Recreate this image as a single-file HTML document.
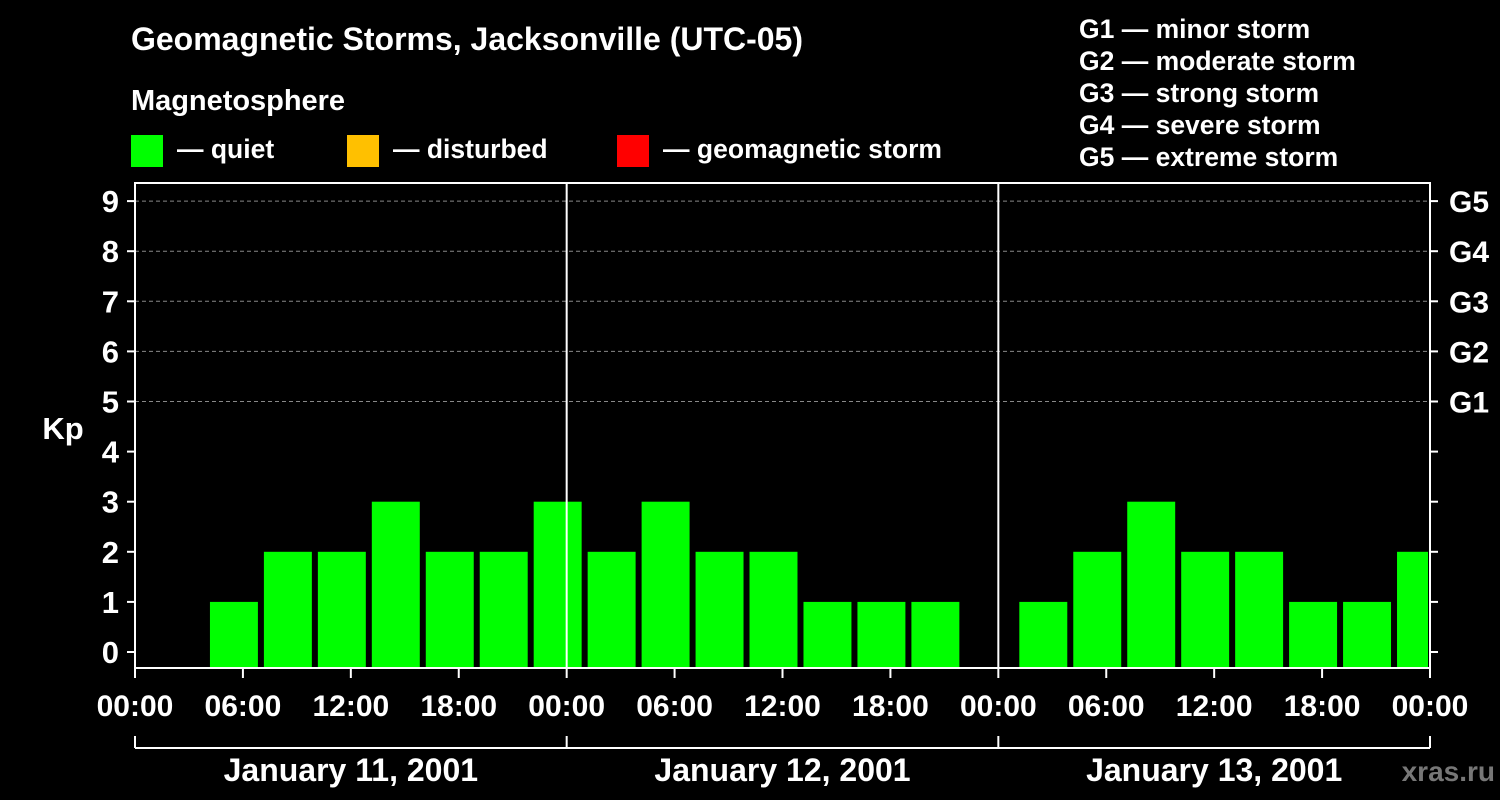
<!DOCTYPE html>
<html><head><meta charset="utf-8"><style>
body{margin:0;background:#000;width:1500px;height:800px;overflow:hidden}
svg{display:block;font-family:"Liberation Sans",Arial,sans-serif;font-weight:bold}
</style></head><body>
<svg id="c" width="1500" height="800">
<text x="131" y="50" fill="#fff" font-size="32" textLength="672">Geomagnetic Storms, Jacksonville (UTC-05)</text>
<text x="131" y="110" fill="#fff" font-size="29" textLength="214">Magnetosphere</text>
<g><rect x="131" y="135" width="32" height="32" fill="#00ff00"/><text x="177" y="158" fill="#fff" font-size="26.5">— quiet</text></g>
<g><rect x="347" y="135" width="32" height="32" fill="#ffc000"/><text x="393" y="158" fill="#fff" font-size="26.5">— disturbed</text></g>
<g><rect x="617" y="135" width="32" height="32" fill="#ff0000"/><text x="663" y="158" fill="#fff" font-size="26.5" textLength="279">— geomagnetic storm</text></g>
<g fill="#fff" font-size="26.5">
<text x="1079" y="38">G1 — minor storm</text><text x="1079" y="70">G2 — moderate storm</text><text x="1079" y="102">G3 — strong storm</text><text x="1079" y="134">G4 — severe storm</text><text x="1079" y="166">G5 — extreme storm</text></g>
<text x="63" y="439" fill="#fff" font-size="31" text-anchor="middle">Kp</text>
<text x="1495" y="781" fill="#777" font-size="28" text-anchor="end">xras.ru</text>
<g id="g"></g>
</svg>
<script>
const dates=["January 11, 2001","January 12, 2001","January 13, 2001"];
const slotStartHours=[1,4,7,10,13,16,19,22,25,28,31,34,37,40,43,46,49,52,55,58,61,64,67,70];
const kpValues=[0,1,2,2,3,2,2,3,2,3,2,2,1,1,1,0,1,2,3,2,2,1,1,2];
const yTicks=[0,1,2,3,4,5,6,7,8,9];
const gLabels=["G1","G2","G3","G4","G5"];
const X0=135,X1=1430,YT=183,YB=668,totalH=72;
const x=h=>X0+(X1-X0)*h/totalH;
const y=v=>652-50.1*v;
const NS="http://www.w3.org/2000/svg",g=document.getElementById('g');
function mk(t,a,txt){const e=document.createElementNS(NS,t);for(const k in a)e.setAttribute(k,a[k]);if(txt!=null)e.textContent=txt;g.appendChild(e);return e;}
for(let v=5;v<=9;v++){const e=mk('line',{x1:X0,x2:X1,y1:y(v),y2:y(v),stroke:'#888','stroke-dasharray':'4,3'});

}
kpValues.forEach((v,i)=>{if(v<=0)return;const a=x(slotStartHours[i])+3,b=Math.min(x(slotStartHours[i]+3)-3,X1-2);
const e=mk('rect',{x:a,y:y(v),width:b-a,height:YB-y(v),fill:v>=5?'#ff0000':(v>=4?'#ffc000':'#00ff00')});

});
const f=mk('rect',{x:X0,y:YT,width:X1-X0,height:YB-YT,fill:'none',stroke:'#fff','stroke-width':2});


[24,48].forEach(h=>{const e=mk('line',{x1:x(h),x2:x(h),y1:YT,y2:YB,stroke:'#fff','stroke-width':2});

});
yTicks.forEach(v=>{mk('line',{x1:X0-8,x2:X0,y1:y(v),y2:y(v),stroke:'#fff','stroke-width':2});
mk('line',{x1:X1,x2:X1+8,y1:y(v),y2:y(v),stroke:'#fff','stroke-width':2});
const t=mk('text',{x:X0-16,y:y(v)+11,fill:'#fff','font-size':31,'text-anchor':'end'},String(v));

});
gLabels.forEach((l,i)=>{const t=mk('text',{x:X1+19,y:y(5+i)+11,fill:'#fff','font-size':30},l);

});
for(let h=0;h<=72;h+=6){mk('line',{x1:x(h),x2:x(h),y1:YB,y2:YB+10,stroke:'#fff','stroke-width':2});
const t=mk('text',{x:x(h),y:716,fill:'#fff','font-size':30,'text-anchor':'middle'},h%24==0?'00:00':String(h%24).padStart(2,'0')+':00');

}
mk('line',{x1:X0,x2:X1,y1:748,y2:748,stroke:'#fff','stroke-width':2});
[0,24,48,72].forEach(h=>mk('line',{x1:x(h),x2:x(h),y1:736,y2:748,stroke:'#fff','stroke-width':2}));
dates.forEach((d,i)=>{const t=mk('text',{x:x(i*24+12),y:781,fill:'#fff','font-size':32,'text-anchor':'middle'},d);

});
</script>
</body></html>
